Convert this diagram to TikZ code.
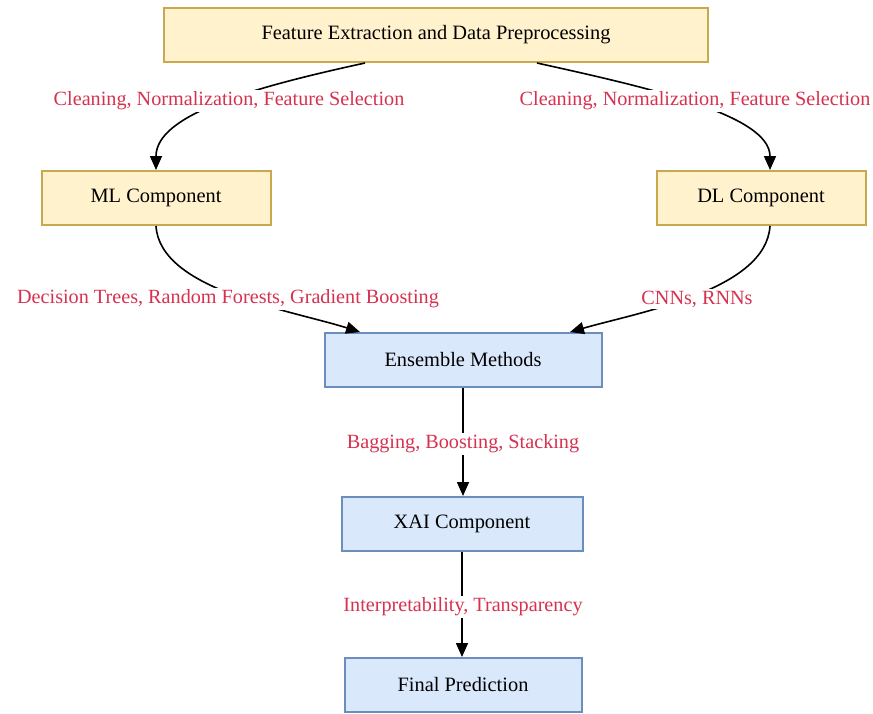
\documentclass[tikz,border=0pt]{standalone}
\usepackage{fontspec}
\setmainfont{Liberation Serif}
\usepackage{tikz}
\usetikzlibrary{arrows.meta,calc}
\definecolor{boxyellow}{HTML}{FFF2CC}
\definecolor{lineyellow}{HTML}{C9A94E}
\definecolor{boxblue}{HTML}{DAE8FC}
\definecolor{lineblue}{HTML}{6C8EBF}
\definecolor{labelred}{RGB}{214,50,80}
\tikzset{
  stagebox/.style={
    draw = lineyellow,
    fill = boxyellow,
    line width=1pt,
    inner sep = 0pt,
    minimum height=27pt,
    font=\fontsize{10.2}{12}\selectfont
  },
  fusebox/.style={
    stagebox,
    draw = lineblue,
    fill = boxblue
  },
  flow/.style={
    draw = black,
    line width=0.8pt,
    -{Triangle[length=7pt,width=6pt]}
  },
  edgelabel/.style={
    fill = white,
    inner sep = 1pt,
    text = labelred,
    font=\fontsize{10.1}{12}\selectfont
  }
}

\begin{document}
\begin{tikzpicture}[x=0.5pt,y=-0.5pt]
        \useasboundingbox (0,0) rectangle (873,713);
        % boxes
        \node[stagebox, minimum width=272pt] (fe) at (436,35) {Feature Extraction and Data Preprocessing};
        \node[stagebox, minimum width=114.5pt] (ml) at (156,198) {ML Component};
        \node[stagebox, minimum width=104.5pt] (dl) at (761,198) {DL Component};
        \node[fusebox, minimum width=138.5pt] (ens) at (463,360) {Ensemble Methods};
        \node[fusebox, minimum width=120.5pt] (xai) at (462,524) {XAI Component};
        \node[fusebox, minimum width=118.5pt] (final) at (463,685) {Final Prediction};
        % connectors
        \draw[flow] ($(fe.south)+(-71,0)$) .. controls (250,88) and (156,115) .. (ml.north);
        \draw[flow] ($(fe.south)+(101,0)$) .. controls (650,88) and (770,115) .. ($(dl.north)+(9,0)$);
        \draw[flow] (ml.south) .. controls (160,290) and (290,310) .. ($(ens.north)+(-103,0)$);
        \draw[flow] ($(dl.south)+(9,0)$) .. controls (766,290) and (640,312) .. ($(ens.north)+(107,0)$);
        \draw[flow] (ens.south) -- (ens.south |- xai.north);
        \draw[flow] (xai.south) -- (xai.south |- final.north);
        % labels
        \node[edgelabel] (lclean) at (229,101) {Cleaning, Normalization, Feature Selection};
        \node[edgelabel] (rclean) at (695,101) {Cleaning, Normalization, Feature Selection};
        \node[edgelabel] (mlalg) at (228,299) {Decision Trees, Random Forests, Gradient Boosting};
        \node[edgelabel] (dlalg) at (697,299) {CNNs, RNNs};
        \node[edgelabel] (enslab) at (463,444) {Bagging, Boosting, Stacking};
        \node[edgelabel] (xailab) at (463,607) {Interpretability, Transparency};
    \end{tikzpicture}
\end{document}
